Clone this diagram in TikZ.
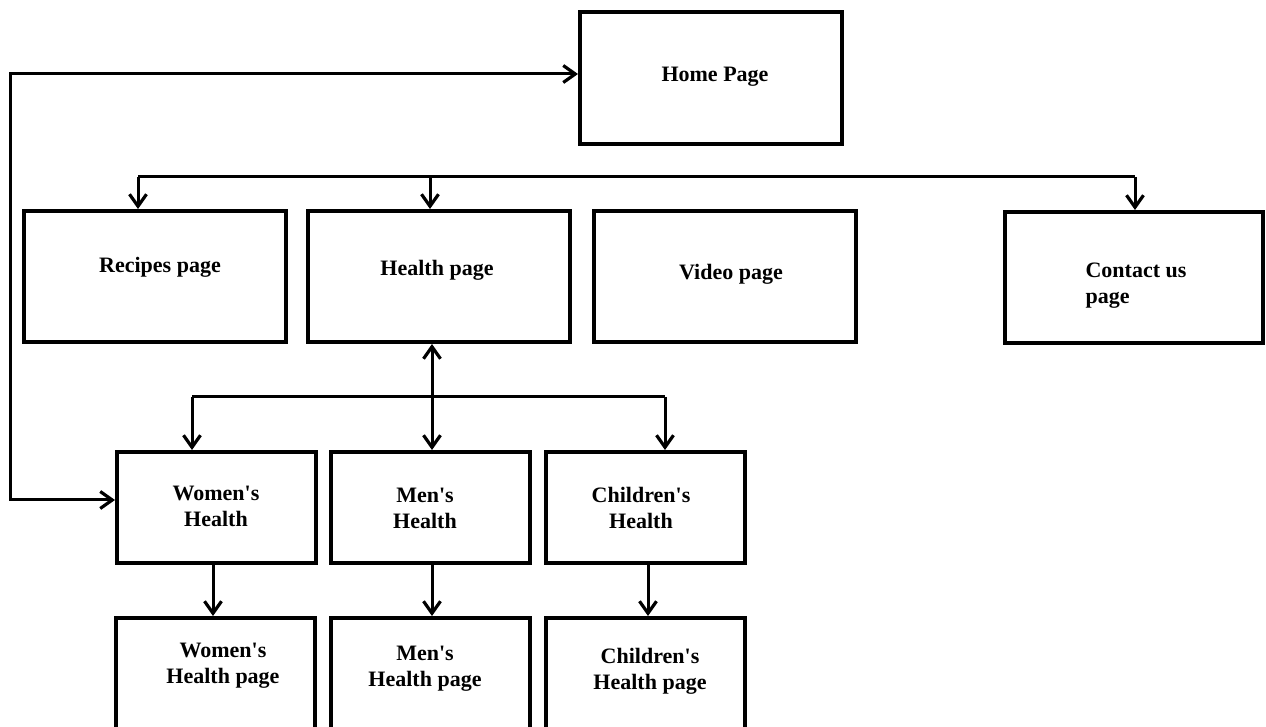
\documentclass[tikz,border=0pt]{standalone}
\usepackage{fontspec}
\setmainfont{Liberation Serif}
\usetikzlibrary{arrows.meta}
\newcommand{\apos}{\textquotesingle}
\begin{document}
\begin{tikzpicture}[x=0.5pt,y=-0.5pt,
  pagebox/.style={draw=black,line width=2pt,minimum width=131pt,minimum height=65.5pt,inner sep=0pt},
  subbox/.style={draw=black,line width=2pt,minimum width=99.5pt,minimum height=55.5pt,inner sep=0pt},
  leafbox/.style={draw=black,line width=2pt,minimum width=99.5pt,minimum height=62pt,inner sep=0pt},
  lbl/.style={font=\fontsize{11}{13}\selectfont\bfseries,align=center,inner sep=0pt},
  tip/.tip={Straight Barb[length=6pt,width=8.5pt,line width=1.6pt]},
  conn/.style={line width=1.5pt,arrows={-tip}},
  both/.style={line width=1.5pt,arrows={tip-tip}},
  line/.style={line width=1.5pt}]
\useasboundingbox (0,0) rectangle (1266,727);

% boxes
\node[pagebox,minimum width=131pt,minimum height=66pt] (home) at (711,78) {};
\node[pagebox] (recipes) at (154.5,276.5) {};
\node[pagebox] (health) at (439,276.5) {};
\node[pagebox] (video) at (724.5,276.5) {};
\node[pagebox,minimum width=129pt] (contact) at (1134,277.5) {};
\node[subbox] (women) at (216.5,507.5) {};
\node[subbox] (men) at (430.5,507.5) {};
\node[subbox] (children) at (645,507.5) {};
\node[leafbox] (womenp) at (215.5,680) {};
\node[leafbox] (menp) at (430.5,680) {};
\node[leafbox] (childrenp) at (645,680) {};

% labels
\node[lbl] (homeT) at (715,77) {Home Page};
\node[lbl] (recipesT) at (160,267) {Recipes page};
\node[lbl] (healthT) at (437,270) {Health page};
\node[lbl] (videoT) at (731,274) {Video page};
\node[lbl,align=left] (contactT) at (1136,286) {Contact us\\page};
\node[lbl] (womenT) at (216,506) {Women\apos s\\Health};
\node[lbl] (menT) at (425,508) {Men\apos s\\Health};
\node[lbl] (childrenT) at (641,508) {Children\apos s\\Health};
\node[lbl] (womenpT) at (223,666) {Women\apos s\\Health page};
\node[lbl] (menpT) at (425,669) {Men\apos s\\Health page};
\node[lbl] (childrenpT) at (650,671) {Children\apos s\\Health page};

% distribution bus under the home page
\coordinate (busL) at (138,177);
\coordinate (busH) at (430,177);
\coordinate (busR) at (1135,177);
\draw[line] (busL) -- (busR);
\draw[conn] (busL) -- (busL |- recipes.north);
\draw[conn] (busH) -- (busH |- health.north);
\draw[conn] (busR) -- (busR |- contact.north);

% loop from women's health back to the home page
\coordinate (homeIn) at (578,74);
\coordinate (loopB) at (10,500);
\draw[both] (homeIn -| home.west) -| (loopB) -- (loopB -| women.west);

% health page to its sub pages
\coordinate (hx) at (432,0);
\draw[both] (hx |- health.south) -- (hx |- men.north);
\coordinate (brL) at (192,397);
\coordinate (brR) at (665,397);
\draw[line] (brL) -- (brR);
\draw[conn] (brL) -- (brL |- women.north);
\draw[conn] (brR) -- (brR |- children.north);

% sub pages to their detail pages
\coordinate (wx) at (213,0);
\coordinate (mx) at (432,0);
\coordinate (cx) at (648,0);
\draw[conn] (wx |- women.south) -- (wx |- womenp.north);
\draw[conn] (mx |- men.south) -- (mx |- menp.north);
\draw[conn] (cx |- children.south) -- (cx |- childrenp.north);
\end{tikzpicture}
\end{document}
